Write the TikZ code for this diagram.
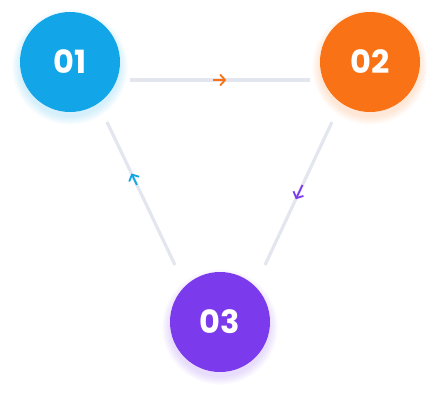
\documentclass[tikz,border=0pt]{standalone}
\usepackage{fontspec}
\setmainfont{Poppins}
\usetikzlibrary{arrows.meta,calc}
\definecolor{cblue}{HTML}{12A6E8}
\definecolor{corange}{HTML}{F97316}
\definecolor{cpurple}{HTML}{7B3AEC}
\definecolor{cline}{HTML}{E3E6EE}
\tikzset{
  x=1pt,y=-1pt,
  stepcircle/.style={circle,minimum size=100pt,inner sep=0pt,text=white,font=\fontsize{32}{34}\selectfont\bfseries},
  link/.style={cline,line width=3.2pt},
  mark arrow/.style={line width=1.8pt,-{Straight Barb[length=5pt,width=11pt,line width=1.8pt]}},
}
\newcommand{\glow}[3]{%
  \foreach \i in {1,...,8}{
    \fill[#1,opacity=0.025] ($(#2)+(0,#3)$) circle[radius=49+1.1*\i];
  }}
\begin{document}
\begin{tikzpicture}
\useasboundingbox (0,0) rectangle (440,400);
\coordinate (g1) at (70,62);
\coordinate (g2) at (370,62);
\coordinate (g3) at (220,322);
\glow{cblue}{g1}{5}
\glow{corange}{g2}{5}
\glow{cpurple}{g3}{5}
\node[stepcircle,fill=cblue] (n1) at (70,62) {01};
\node[stepcircle,fill=corange] (n2) at (370,62) {02};
\node[stepcircle,fill=cpurple] (n3) at (220,322) {03};
% connector end points
\coordinate (a1) at ($(n1)+(60,18)$);
\coordinate (a2) at ($(n2)+(-60,18)$);
\coordinate (b1) at ($(n2)+(-38,60)$);
\coordinate (b2) at ($(n3)+(45,-57)$);
\coordinate (c1) at ($(n3)+(-45,-57)$);
\coordinate (c2) at ($(n1)+(37,60)$);
\draw[link] (a1) -- (a2);
\draw[link] (b1) -- (b2);
\draw[link] (c1) -- (c2);
% direction marks
\draw[mark arrow,corange] ($(a1)!0.46!(a2)$) -- ($(a1)!0.535!(a2)$);
\draw[mark arrow,cpurple] ($(b1)!0.44!(b2)$) -- ($(b1)!0.54!(b2)$);
\draw[mark arrow,cblue] ($(c1)!0.56!(c2)$) -- ($(c1)!0.64!(c2)$);
\end{tikzpicture}
\end{document}
